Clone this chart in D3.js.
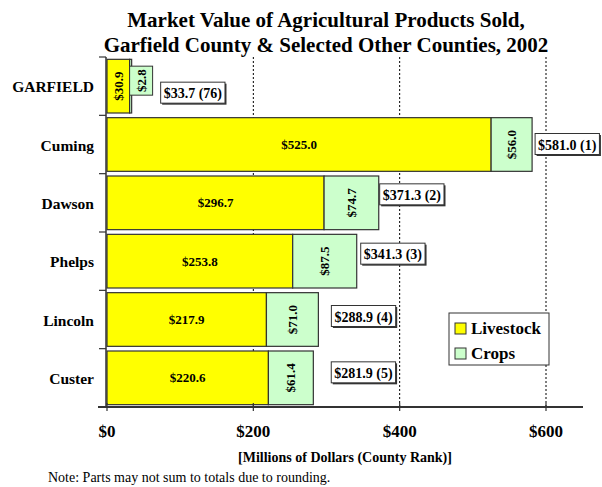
<!DOCTYPE html>
<html>
<head>
<meta charset="utf-8">
<script src="https://cdn.jsdelivr.net/npm/d3@7"></script>
<style>
  body { margin: 0; background: #fff; }
  text { font-family: "Liberation Serif", "Times New Roman", serif; }
</style>
</head>
<body>
<script>
// data
var counties = ["GARFIELD", "Cuming", "Dawson", "Phelps", "Lincoln", "Custer"];
var livestock = [30.9, 525.0, 296.7, 253.8, 217.9, 220.6];
var crops = [2.8, 56.0, 74.7, 87.5, 71.0, 61.4];
var totals = [33.7, 581.0, 371.3, 341.3, 288.9, 281.9];
var ranks = [76, 1, 2, 3, 4, 5];
var xTicks = [0, 200, 400, 600];

// total label nudges (px), hand placed in the original
var totalDx = [29, 3, 1, 4, 13, 18];
var totalDy = [7, 0, -8, -7, -3, -5];

var width = 602, height = 487;

var svg = d3.select("body").append("svg")
  .attr("width", width)
  .attr("height", height);

var x = d3.scaleLinear().domain([0, 600]).range([107, 546]);
var y = d3.scaleBand().domain(counties).range([57, 407])
  .paddingInner(0.08).paddingOuter(0.04);

// title
svg.append("text")
  .attr("x", 326).attr("y", 27)
  .attr("text-anchor", "middle")
  .style("font-size", "21px").style("font-weight", "bold")
  .text("Market Value of Agricultural Products Sold,");
svg.append("text")
  .attr("x", 326).attr("y", 52)
  .attr("text-anchor", "middle")
  .style("font-size", "21px").style("font-weight", "bold")
  .text("Garfield County & Selected Other Counties, 2002");

// gridlines
svg.selectAll("line.grid").data(xTicks.slice(1))
  .enter().append("line")
  .attr("class", "grid")
  .attr("x1", function(d) { return x(d); })
  .attr("x2", function(d) { return x(d); })
  .attr("y1", 57).attr("y2", 407)
  .attr("stroke", "#000")
  .attr("stroke-width", 1)
  .attr("stroke-dasharray", "2,2");

var rows = counties.map(function(c, i) {
  return {name: c, live: livestock[i], crop: crops[i], total: totals[i], rank: ranks[i], i: i};
});

var g = svg.selectAll("g.row").data(rows).enter().append("g").attr("class", "row");

// livestock bars
g.append("rect")
  .attr("x", x(0))
  .attr("y", function(d) { return y(d.name); })
  .attr("width", function(d) { return x(d.live) - x(0); })
  .attr("height", y.bandwidth())
  .attr("fill", "#ffff00")
  .attr("stroke", "#333")
  .attr("stroke-width", 1.2);

// crop bars
g.append("rect")
  .attr("x", function(d) { return x(d.live); })
  .attr("y", function(d) { return y(d.name); })
  .attr("width", function(d) { return x(d.live + d.crop) - x(d.live); })
  .attr("height", y.bandwidth())
  .attr("fill", "#ccffcc")
  .attr("stroke", "#333")
  .attr("stroke-width", 1.2);

// livestock labels
g.append("text")
  .attr("transform", function(d) {
    var cx = (x(0) + x(d.live)) / 2, cy = y(d.name) + y.bandwidth() / 2;
    if (x(d.live) - x(0) < 40) return "translate(" + (cx + 4.5) + "," + cy + ") rotate(-90)";
    return "translate(" + cx + "," + (cy + 4.5) + ")";
  })
  .attr("text-anchor", "middle")
  .style("font-size", "13px").style("font-weight", "bold")
  .text(function(d) { return "$" + d.live.toFixed(1); });

// crop labels (small values get a boxed label beside the bar)
g.each(function(d) {
  var sel = d3.select(this);
  var x0 = x(d.live), x1 = x(d.live + d.crop);
  var cy = y(d.name) + y.bandwidth() / 2;
  var cx = (x0 + x1) / 2;
  if (x1 - x0 < 15) {
    sel.append("rect")
      .attr("x", x0).attr("y", cy - 20)
      .attr("width", 23).attr("height", 29)
      .attr("fill", "#ccffcc").attr("stroke", "#333");
    cx = x0 + 11.5;
    cy = cy - 5.5;
  }
  sel.append("text")
    .attr("transform", "translate(" + (cx + 4.5) + "," + cy + ") rotate(-90)")
    .attr("text-anchor", "middle")
    .style("font-size", "13px").style("font-weight", "bold")
    .text("$" + d.crop.toFixed(1));
});

// total labels
g.each(function(d) {
  var sel = d3.select(this);
  var lx = x(d.total) + totalDx[d.i];
  var cy = y(d.name) + y.bandwidth() / 2 + totalDy[d.i];
  var t = sel.append("text")
    .attr("x", lx + 3).attr("y", cy + 5)
    .style("font-size", "14px").style("font-weight", "bold")
    .text("$" + d.total.toFixed(1) + " (" + d.rank + ")");
  var w = t.node().getComputedTextLength() + 6;
  sel.insert("rect", "text:last-child")
    .attr("x", lx + 1.5).attr("y", cy - 9.5)
    .attr("width", w).attr("height", 21)
    .attr("fill", "#333");
  sel.insert("rect", "text:last-child")
    .attr("x", lx).attr("y", cy - 11)
    .attr("width", w).attr("height", 21)
    .attr("fill", "#fff").attr("stroke", "#333");
});

// y axis
svg.append("line")
  .attr("x1", 106).attr("x2", 106).attr("y1", 57).attr("y2", 407)
  .attr("stroke", "#333").attr("stroke-width", 1.5);
svg.selectAll("line.ytick").data(d3.range(counties.length + 1))
  .enter().append("line")
  .attr("class", "ytick")
  .attr("x1", 99).attr("x2", 106)
  .attr("y1", function(i) { return 57 + i * y.step(); })
  .attr("y2", function(i) { return 57 + i * y.step(); })
  .attr("stroke", "#333").attr("stroke-width", 1.2);

svg.selectAll("text.cat").data(counties)
  .enter().append("text")
  .attr("class", "cat")
  .attr("x", 94)
  .attr("y", function(d) { return y(d) + y.bandwidth() / 2 + 6; })
  .attr("text-anchor", "end")
  .style("font-size", "15.5px").style("font-weight", "bold")
  .text(function(d) { return d; });

// x axis
svg.append("line")
  .attr("x1", 98).attr("x2", 583).attr("y1", 407).attr("y2", 407)
  .attr("stroke", "#333").attr("stroke-width", 2);
svg.selectAll("line.xtick").data(xTicks)
  .enter().append("line")
  .attr("class", "xtick")
  .attr("x1", function(d) { return x(d); })
  .attr("x2", function(d) { return x(d); })
  .attr("y1", 403).attr("y2", 411)
  .attr("stroke", "#333").attr("stroke-width", 1.2);
svg.selectAll("text.xlab").data(xTicks)
  .enter().append("text")
  .attr("class", "xlab")
  .attr("x", function(d) { return x(d); })
  .attr("y", 437)
  .attr("text-anchor", "middle")
  .style("font-size", "17px").style("font-weight", "bold")
  .text(function(d) { return "$" + d; });

svg.append("text")
  .attr("x", 345).attr("y", 462)
  .attr("text-anchor", "middle")
  .style("font-size", "14px").style("font-weight", "bold")
  .text("[Millions of Dollars (County Rank)]");

svg.append("text")
  .attr("x", 48).attr("y", 482)
  .style("font-size", "14px")
  .text("Note: Parts may not sum to totals due to rounding.");

// legend
var legend = svg.append("g").attr("transform", "translate(449,313)");
legend.append("rect")
  .attr("width", 100).attr("height", 52)
  .attr("fill", "#fff").attr("stroke", "#333");
var legendItems = [["Livestock", "#ffff00"], ["Crops", "#ccffcc"]];
legend.selectAll("g.item").data(legendItems)
  .enter().append("g")
  .attr("class", "item")
  .each(function(d, i) {
    var it = d3.select(this);
    it.append("rect")
      .attr("x", 6).attr("y", 10 + i * 25)
      .attr("width", 11).attr("height", 11)
      .attr("fill", d[1]).attr("stroke", "#333");
    it.append("text")
      .attr("x", 22).attr("y", 21 + i * 25)
      .style("font-size", "17px").style("font-weight", "bold")
      .text(d[0]);
  });
</script>
</body>
</html>
